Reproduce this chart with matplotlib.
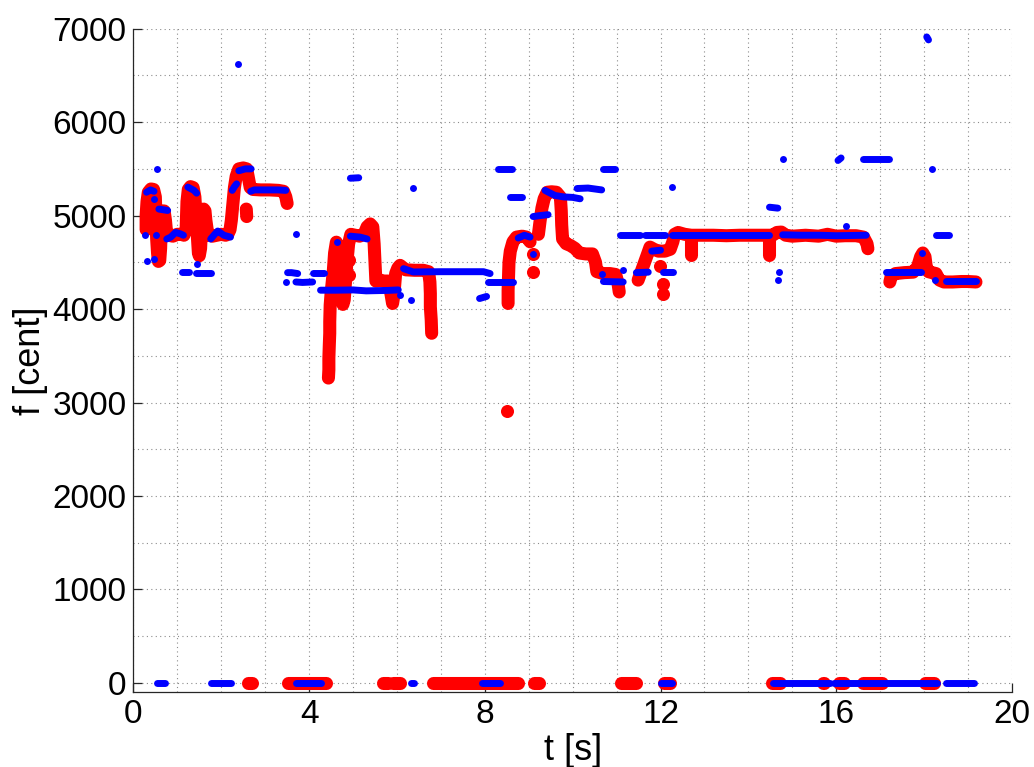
import matplotlib
matplotlib.use('agg')
import matplotlib.pyplot as plt
from matplotlib.ticker import MultipleLocator
import numpy as np

# pitch tracks: (t [s], f [cent]) polylines
red_track = [
    [(0.29, 4850), (0.29, 5000), (0.31, 5150), (0.34, 5250), (0.40, 5285), (0.46, 5280),
     (0.50, 5200), (0.51, 5050), (0.52, 4900), (0.53, 4750), (0.55, 4600), (0.57, 4510),
     (0.60, 4520), (0.62, 4650), (0.63, 4800), (0.64, 4950), (0.66, 5050), (0.70, 5050),
     (0.73, 4950), (0.75, 4850), (0.80, 4790), (0.90, 4780), (1.00, 4800), (1.10, 4800),
     (1.15, 4790), (1.20, 4850), (1.21, 5000), (1.22, 5150), (1.25, 5280), (1.30, 5310),
     (1.36, 5300), (1.40, 5200), (1.42, 5050), (1.44, 4900), (1.46, 4750), (1.48, 4600),
     (1.50, 4570), (1.53, 4650), (1.55, 4850), (1.57, 5000), (1.60, 5070), (1.63, 5050),
     (1.65, 4950), (1.68, 4850), (1.72, 4790), (1.80, 4780), (1.90, 4790), (2.00, 4800),
     (2.10, 4790), (2.15, 4800), (2.20, 4850), (2.23, 4950), (2.25, 5050), (2.27, 5150),
     (2.30, 5300), (2.34, 5420), (2.40, 5500), (2.50, 5510), (2.58, 5500), (2.62, 5400),
     (2.66, 5300), (2.72, 5280), (2.90, 5275), (3.10, 5275), (3.30, 5270), (3.42, 5260),
     (3.47, 5200), (3.50, 5130)],
    [(2.57, 5070), (2.58, 4990)],
    [(4.44, 3262), (4.45, 3350), (4.45, 3475), (4.46, 3617), (4.47, 3741), (4.47, 3865),
     (4.48, 4043), (4.50, 4167), (4.55, 4400), (4.58, 4600), (4.62, 4716), (4.68, 4650),
     (4.72, 4300), (4.77, 4050), (4.80, 4100), (4.83, 4300), (4.86, 4500), (4.90, 4700),
     (4.95, 4800), (5.05, 4790), (5.15, 4780), (5.25, 4800), (5.32, 4880), (5.39, 4911),
     (5.45, 4880), (5.48, 4700), (5.50, 4500), (5.52, 4300), (5.62, 4310), (5.70, 4300),
     (5.80, 4300), (5.85, 4200), (5.90, 4060), (5.93, 4150), (5.97, 4380), (6.02, 4440),
     (6.07, 4468), (6.20, 4420), (6.40, 4415), (6.60, 4415), (6.72, 4400), (6.75, 4290),
     (6.76, 4167), (6.76, 4025), (6.78, 3883), (6.79, 3741)],
    [(8.53, 4060), (8.53, 4200), (8.54, 4350), (8.55, 4500), (8.58, 4620), (8.64, 4720),
     (8.72, 4770), (8.85, 4780), (8.95, 4770), (9.03, 4720)],
    [(9.22, 4800), (9.26, 4950), (9.30, 5080), (9.35, 5180), (9.42, 5250), (9.52, 5255),
     (9.63, 5250), (9.72, 5200), (9.74, 5050), (9.75, 4900), (9.77, 4750), (9.85, 4700),
     (9.95, 4680), (10.05, 4650), (10.15, 4600), (10.30, 4590), (10.45, 4590), (10.52, 4500),
     (10.55, 4400), (10.70, 4380), (10.85, 4380), (10.98, 4370), (11.03, 4280), (11.06, 4183)],
    [(11.49, 4310), (11.57, 4414), (11.68, 4557), (11.76, 4663), (11.85, 4640), (11.95, 4620),
     (12.10, 4620), (12.22, 4640), (12.28, 4720), (12.32, 4800), (12.40, 4820), (12.55, 4800),
     (12.70, 4790), (12.90, 4790), (13.20, 4790), (13.50, 4785), (13.80, 4790), (14.10, 4790),
     (14.30, 4790), (14.45, 4790), (14.55, 4790), (14.65, 4820), (14.75, 4824), (14.85, 4790),
     (15.00, 4780), (15.30, 4790), (15.60, 4780), (15.80, 4800), (16.00, 4780), (16.20, 4785),
     (16.45, 4785), (16.62, 4770), (16.70, 4700), (16.72, 4646)],
    [(12.70, 4790), (12.70, 4575)],
    [(14.48, 4790), (14.48, 4575)],
    [(17.22, 4290), (17.25, 4350), (17.35, 4380), (17.55, 4390), (17.75, 4395), (17.85, 4450),
     (17.92, 4560), (17.97, 4600), (18.02, 4560), (18.05, 4450), (18.10, 4400), (18.18, 4390),
     (18.27, 4380), (18.35, 4310), (18.45, 4290), (18.65, 4290), (18.85, 4295), (19.00, 4295),
     (19.18, 4290)],
]
red_dots = [(9.10, 4590), (9.10, 4400), (8.51, 2913), (11.98, 4460), (12.06, 4270),
            (12.06, 4165), (4.90, 4362), (4.90, 4520)]
red_zero_runs = [(2.61, 2.69), (3.51, 4.38), (5.69, 5.80), (5.90, 6.06), (6.81, 8.76),
                 (9.12, 9.24), (11.11, 11.45), (12.07, 12.21), (14.54, 14.71),
                 (15.69, 15.73), (16.07, 16.18), (16.62, 17.05), (18.02, 18.23)]

blue_track = [
    [(0.30, 5250), (0.39, 5275), (0.47, 5260)],
    [(0.58, 5070), (0.78, 5055)],
    [(0.76, 4750), (0.85, 4770), (0.96, 4820), (1.07, 4805), (1.14, 4790)],
    [(1.11, 4397), (1.26, 4397)],
    [(1.24, 5305), (1.30, 5290), (1.38, 5270), (1.44, 5240)],
    [(1.42, 4390), (1.76, 4390)],
    [(1.76, 4750), (1.85, 4800), (1.92, 4835), (2.06, 4790), (2.21, 4770)],
    [(2.25, 5270), (2.30, 5310), (2.35, 5340)],
    [(2.40, 5480), (2.55, 5500), (2.68, 5500)],
    [(2.67, 5260), (2.75, 5275), (3.00, 5275), (3.30, 5275), (3.47, 5270)],
    [(3.51, 4390), (3.60, 4390), (3.74, 4380)],
    [(3.70, 4290), (3.85, 4285), (4.08, 4290)],
    [(4.08, 4390), (4.34, 4390)],
    [(4.26, 4202), (4.60, 4202), (5.00, 4205), (5.30, 4195), (5.80, 4200), (6.03, 4205)],
    [(4.94, 4780), (5.16, 4770), (5.32, 4750)],
    [(4.94, 5400), (5.13, 5405)],
    [(8.31, 5500), (8.61, 5500)],
    [(8.57, 5197), (8.84, 5197)],
    [(9.10, 4990), (9.25, 5000), (9.44, 5010)],
    [(9.37, 5270), (9.45, 5250), (9.60, 5215), (9.80, 5200), (10.00, 5195), (10.17, 5180)],
    [(10.10, 5290), (10.35, 5295), (10.66, 5275)],
    [(8.76, 4760), (8.90, 4790), (9.03, 4770)],
    [(6.15, 4433), (6.37, 4397), (7.00, 4400), (7.50, 4400), (7.97, 4400), (8.12, 4380)],
    [(8.08, 4290), (8.65, 4290)],
    [(7.88, 4113), (8.04, 4135)],
    [(10.70, 5500), (10.96, 5500)],
    [(14.48, 5090), (14.67, 5080)],
    [(10.70, 4295), (11.15, 4290)],
    [(11.07, 4795), (11.53, 4795)],
    [(11.64, 4795), (12.10, 4795)],
    [(11.45, 4390), (11.72, 4395)],
    [(11.80, 4620), (12.00, 4630)],
    [(12.06, 4397), (12.29, 4397)],
    [(12.25, 4788), (13.00, 4788), (14.48, 4788)],
    [(14.78, 4795), (15.20, 4790), (15.60, 4790), (16.00, 4785), (16.68, 4790)],
    [(16.04, 5590), (16.11, 5617)],
    [(16.60, 5607), (17.20, 5607)],
    [(18.27, 4795), (18.57, 4795)],
    [(17.13, 4400), (17.93, 4400)],
    [(18.50, 4300), (19.18, 4300)],
    [(18.06, 6912), (18.10, 6880)],
]
blue_dots = [(0.545, 5500), (0.48, 5180), (0.26, 4795), (0.51, 4795), (0.30, 4510),
             (0.47, 4540), (1.45, 4480), (3.70, 4798), (3.47, 4290), (4.64, 4716),
             (6.07, 4150), (6.32, 4096), (6.37, 5300), (9.10, 4590), (10.66, 4380),
             (11.15, 4415), (12.27, 5304), (14.78, 5607), (14.70, 4397), (14.67, 4315),
             (18.18, 5500), (16.23, 4884), (17.95, 4600), (18.25, 4310), (2.38, 6623)]
blue_zero_runs = [(0.53, 0.71), (1.77, 2.23), (3.70, 4.27), (6.31, 6.39), (7.93, 8.34),
                  (12.02, 12.25), (14.55, 15.85), (15.95, 18.30), (18.50, 19.14)]


def draw_series(ax, tracks, dots, zero_runs, color, width):
    style = dict(color=color, lw=width, solid_capstyle='round', solid_joinstyle='round')
    for seg in tracks:
        t, f = zip(*seg)
        ax.plot(t, f, **style)
    for t0, t1 in zero_runs:
        ax.plot([t0, t1], [0, 0], **style)
    t, f = zip(*dots)
    ax.plot(t, f, 'o', color=color, ms=width, mew=0, ls='none')


plt.rcParams['font.family'] = ['Liberation Sans', 'DejaVu Sans']
fig = plt.figure(figsize=(10.34, 7.67), dpi=100)
ax = fig.add_axes([0.129, 0.0974, 0.8497, 0.8652])

draw_series(ax, red_track, red_dots, red_zero_runs, '#ff0000', 9.4)
draw_series(ax, blue_track, blue_dots, blue_zero_runs, '#0000ff', 5.0)

ax.set_xlim(0, 20)
ax.set_ylim(-100, 7000)
ax.xaxis.set_major_locator(MultipleLocator(4))
ax.xaxis.set_minor_locator(MultipleLocator(1))
ax.yaxis.set_major_locator(MultipleLocator(1000))
ax.yaxis.set_minor_locator(MultipleLocator(500))
ax.grid(True, which='both', color='0.55', ls=(0, (1, 3)), lw=0.8)
ax.set_axisbelow(True)

for s in ['top', 'right']:
    ax.spines[s].set_visible(False)
for s in ['left', 'bottom']:
    ax.spines[s].set_color('0.15')
    ax.spines[s].set_linewidth(0.9)

ax.tick_params(which='major', direction='in', length=6.5, width=0.9, color='0.15',
               labelsize=24, pad=5)
ax.tick_params(which='minor', length=0)

ax.set_xlabel('t [s]', fontsize=26, labelpad=2)
ax.set_ylabel('f [cent]', fontsize=26, labelpad=3)

fig.savefig('out.png', dpi=100)
